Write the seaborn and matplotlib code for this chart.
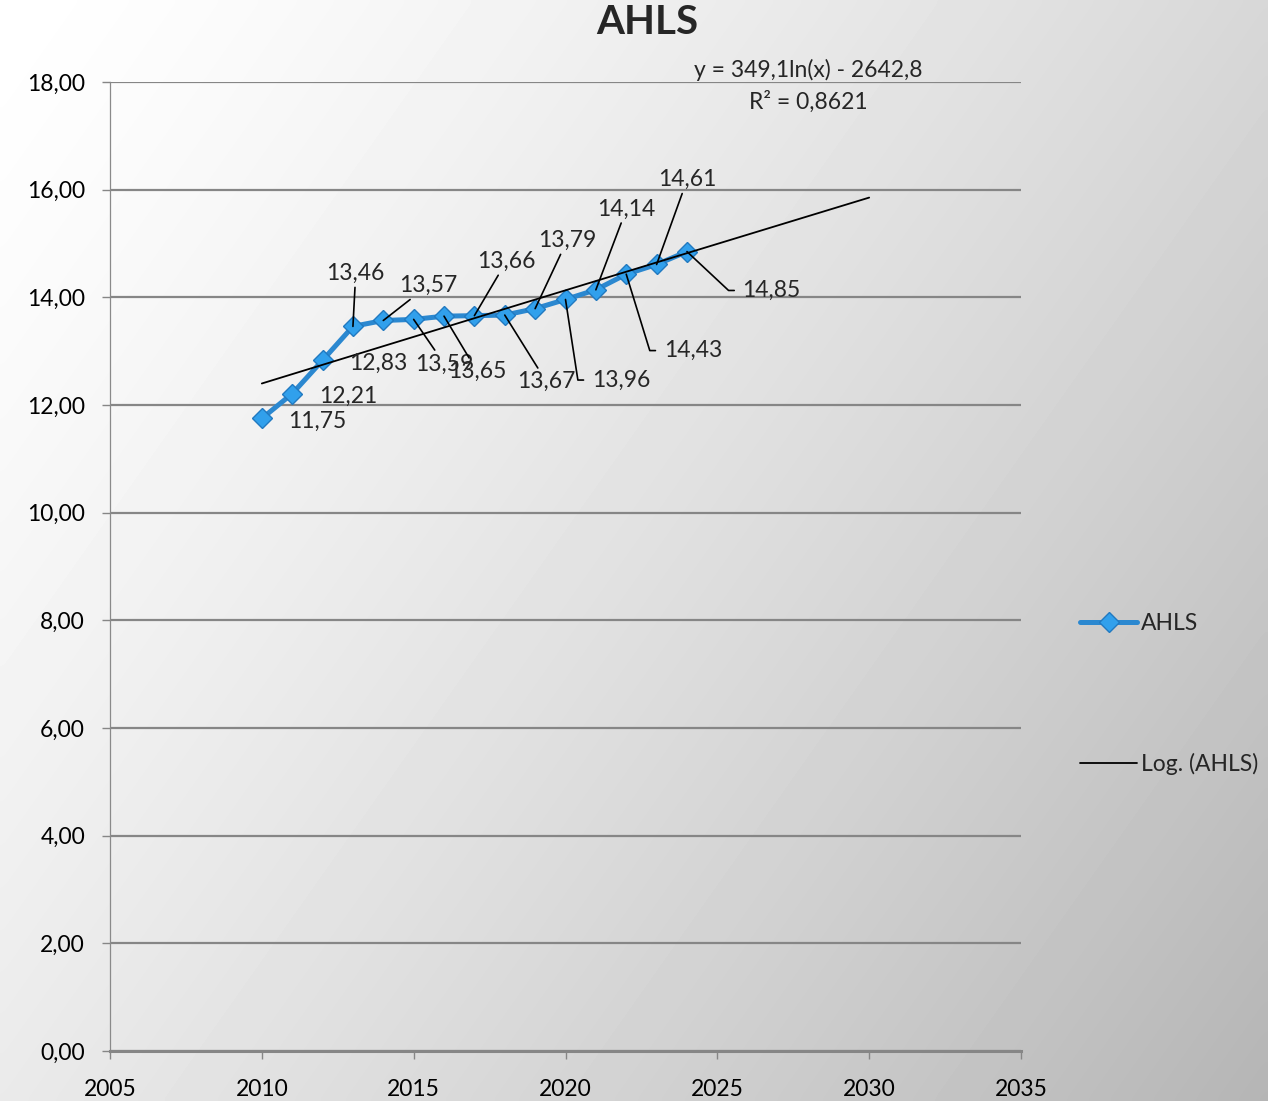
import matplotlib
matplotlib.use("Agg")
import matplotlib.pyplot as plt
import matplotlib.ticker as mticker
import numpy as np
import pandas as pd
import seaborn as sns

sns.set_theme(style="white")
plt.rcParams['font.family'] = ['Lato', 'DejaVu Sans']

years = [2010, 2011, 2012, 2013, 2014, 2015, 2016, 2017, 2018, 2019, 2020, 2021, 2022, 2023, 2024]
ahls = [11.75, 12.21, 12.83, 13.46, 13.57, 13.59, 13.65, 13.66, 13.67, 13.79, 13.96, 14.14, 14.43, 14.61, 14.85]
trend_end = 2030
equation = "y = 349,1ln(x) - 2642,8"
r_squared = "R² = 0,8621"
yticks = [0, 2, 4, 6, 8, 10, 12, 14, 16, 18]
xticks = [2005, 2010, 2015, 2020, 2025, 2030, 2035]

df = pd.DataFrame({'Year': years, 'AHLS': ahls})

# log trend fitted on the data, drawn to trend_end
slope, icpt = np.polyfit(np.log(df['Year']), df['AHLS'], 1)
tx = np.linspace(years[0], trend_end, 50)
dfTrend = pd.DataFrame({'Year': tx, 'Trend': slope * np.log(tx) + icpt})

# label offsets (points, y up) and leader style for each data label
offsets = [(40, -2), (40, -2), (40, -2), (2, 38), (32, 25), (22, -32), (24, -40),
           (23, 39), (30, -48), (23, 49), (40, -58), (22, 58), (48, -55), (22, 61), (61, -28)]
elbow = [False] * 10 + [True, False, True, False, True]

fig = plt.figure(figsize=(12.68, 11.01), dpi=100)

# grey gradient background
bg = fig.add_axes([0, 0, 1, 1], zorder=-10)
gx, gy = np.meshgrid(np.linspace(0, 1, 200), np.linspace(0, 1, 200))
shade = 1.0 - 0.29 * (0.62 * gx + 0.38 * gy) ** 1.3
bg.imshow(shade, cmap='gray', vmin=0, vmax=1, aspect='auto', interpolation='bicubic')
bg.axis('off')

ax = fig.add_axes([110 / 1268, 50 / 1101, 911 / 1268, 969 / 1101])
ax.patch.set_alpha(0)

sns.lineplot(data=df, x='Year', y='AHLS', ax=ax, color='#2b88d0', lw=3.6,
             marker='D', markersize=10, markerfacecolor='#31a0ec',
             markeredgecolor='#2179c0', markeredgewidth=1, label='AHLS', zorder=3)
sns.lineplot(data=dfTrend, x='Year', y='Trend', ax=ax, color='black', lw=1.3,
             label='Log. (AHLS)', zorder=4)

for yr, v, off, el in zip(years, ahls, offsets, elbow):
    txt = f"{v:.2f}".replace('.', ',')
    if el:
        ax.annotate(txt, xy=(yr, v), xytext=off, textcoords='offset points',
                    fontsize=16.5, ha='center', va='center', zorder=5,
                    arrowprops=dict(arrowstyle='-', color='black', lw=1.2, relpos=(0, 0.5),
                                    patchA=None, shrinkA=6, shrinkB=0,
                                    connectionstyle='arc,angleA=180,armA=14,angleB=0,armB=0,rad=0'))
    elif abs(off[1]) < 5:
        ax.annotate(txt, xy=(yr, v), xytext=off, textcoords='offset points',
                    fontsize=16.5, ha='center', va='center', zorder=5)
    else:
        ax.annotate(txt, xy=(yr, v), xytext=off, textcoords='offset points',
                    fontsize=16.5, ha='center', va='center', zorder=5,
                    arrowprops=dict(arrowstyle='-', color='black', lw=1.2, shrinkA=0, shrinkB=0))

ax.text(2028.0, 18.22, equation, fontsize=16.5, ha='center', va='center')
ax.text(2028.0, 17.64, r_squared, fontsize=16.5, ha='center', va='center')

ax.set_xlim(2005, 2035)
ax.set_ylim(0, 18)
ax.set_xticks(xticks)
ax.set_yticks(yticks)
ax.yaxis.set_major_formatter(mticker.FuncFormatter(lambda v, p: f"{v:.2f}".replace('.', ',')))
ax.set_xlabel('')
ax.set_ylabel('')
ax.grid(axis='y', color='#868686', lw=1.6)
ax.set_axisbelow(True)
for s in ['top', 'right']:
    ax.spines[s].set_visible(False)
ax.spines['left'].set_color('#8a8a8a')
ax.spines['left'].set_linewidth(0.9)
ax.spines['bottom'].set_color('#868686')
ax.spines['bottom'].set_linewidth(2.2)
ax.tick_params(axis='both', which='major', length=6, width=1, color='#868686',
               labelsize=16.5, labelcolor='black', left=True, bottom=True)
ax.tick_params(axis='y', pad=12)
ax.tick_params(axis='x', pad=14)

fig.text(647 / 1268, 1 - 23 / 1101, 'AHLS', fontsize=29, fontweight='bold', ha='center', va='center')

ax.legend_.remove()
h, l = ax.get_legend_handles_labels()
fig.legend(h, l, loc='center left', bbox_to_anchor=(1080 / 1268, 1 - 694 / 1101), frameon=False,
           fontsize=16.5, handlelength=2.5, handletextpad=0.15, labelspacing=5.2,
           borderpad=0, borderaxespad=0)

fig.savefig('out.png', dpi=100)
